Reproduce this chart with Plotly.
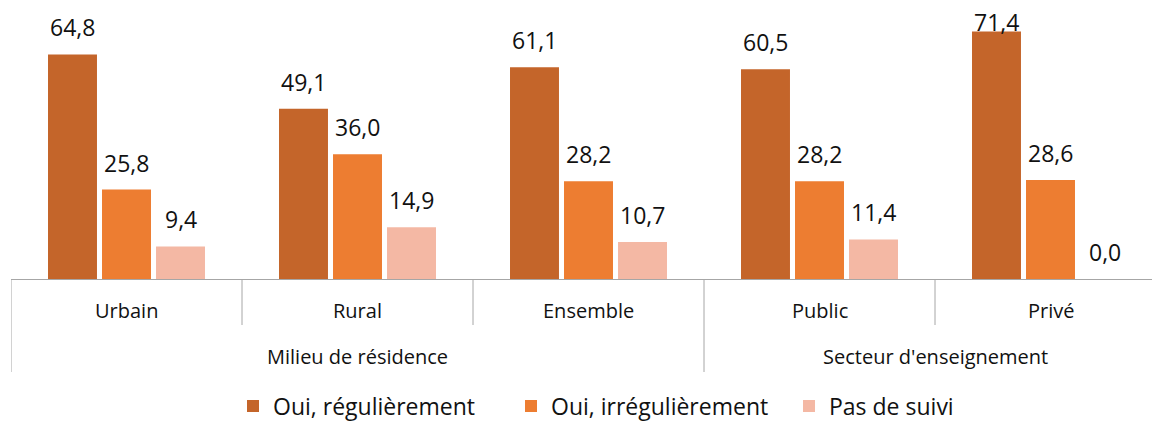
import plotly.graph_objects as go

categories = ["Urbain", "Rural", "Ensemble", "Public", "Privé"]
groups = ["Milieu de résidence", "Secteur d'enseignement"]
group_members = [["Urbain", "Rural", "Ensemble"], ["Public", "Privé"]]
series_names = ["Oui, régulièrement", "Oui, irrégulièrement", "Pas de suivi"]
oui_reg = [64.8, 49.1, 61.1, 60.5, 71.4]
oui_irreg = [25.8, 36.0, 28.2, 28.2, 28.6]
pas_suivi = [9.4, 14.9, 10.7, 11.4, 0.0]

series = [oui_reg, oui_irreg, pas_suivi]
colors = ["#C4652A", "#ED7D31", "#F4B8A4"]

FONT = "Open Sans"
TXT = "#111111"
LINE = "#A6A6A6"

W, H = 1152, 423
ML, MR, MT, MB = 11, 0, 0, 144
plot_h = H - MT - MB

BAR_W = 0.212
SLOT = 0.2338
Y_MAX = 80.5
LABEL_CAP = 66.4  # labels higher than this are pushed down to stay in chart

fig = go.Figure()
for k, (name, vals, col) in enumerate(zip(series_names, series, colors)):
    fig.add_trace(go.Bar(
        x=categories, y=vals, name=name,
        marker=dict(color=col, line=dict(width=0)),
        width=BAR_W, offset=(k - 1) * SLOT - BAR_W / 2,
        hoverinfo="x+y+name",
    ))

annotations = []
# value labels
for k, vals in enumerate(series):
    for i, v in enumerate(vals):
        annotations.append(dict(
            x=i + (k - 1) * SLOT, y=min(v, LABEL_CAP), xref="x", yref="y",
            text=f"{v:.1f}".replace(".", ","), showarrow=False,
            yanchor="bottom", yshift=9,
            font=dict(family=FONT, size=23, color=TXT),
        ))

def py(px):
    return (plot_h - (px - MT)) / plot_h

# inner category labels
for c in categories:
    annotations.append(dict(
        x=c, y=py(310), xref="x", yref="paper", text=c, showarrow=False,
        yanchor="middle", font=dict(family=FONT, size=20, color=TXT),
    ))

# group labels
shapes = []
for g, members in zip(groups, group_members):
    i0 = categories.index(members[0])
    i1 = categories.index(members[-1])
    annotations.append(dict(
        x=(i0 + i1) / 2, y=py(356), xref="x", yref="paper", text=g,
        showarrow=False, yanchor="middle",
        font=dict(family=FONT, size=20, color=TXT),
    ))
    shapes.append(dict(type="line", xref="x", yref="paper",
                       x0=i0 - 0.5, x1=i0 - 0.5, y0=0, y1=py(372),
                       line=dict(color=LINE, width=1)))
    for j in range(i0 + 1, i1 + 1):
        shapes.append(dict(type="line", xref="x", yref="paper",
                           x0=j - 0.5, x1=j - 0.5, y0=0, y1=py(325),
                           line=dict(color=LINE, width=1)))

x_right = (W - ML) / 231.0 - 0.5

fig.update_layout(
    width=W, height=H,
    margin=dict(l=ML, r=MR, t=MT, b=MB, autoexpand=False),
    paper_bgcolor="white", plot_bgcolor="white",
    barmode="group",
    font=dict(family=FONT, size=20, color=TXT),
    xaxis=dict(type="category", categoryorder="array", categoryarray=categories,
               range=[-0.5, x_right], showticklabels=False, showgrid=False,
               showline=True, linecolor=LINE, linewidth=1, ticks="",
               zeroline=False, fixedrange=True),
    yaxis=dict(range=[0, Y_MAX], visible=False, showgrid=False, zeroline=False,
               fixedrange=True),
    showlegend=True,
    legend=dict(orientation="h", xref="paper", yref="container",
                x=(233 - ML) / (W - ML), xanchor="left",
                y=1 - 406 / H, yanchor="middle",
                entrywidth=233, entrywidthmode="pixels",
                font=dict(family=FONT, size=23, color=TXT),
                bgcolor="rgba(0,0,0,0)", traceorder="normal"),
    annotations=annotations,
    shapes=shapes,
)

fig.write_html(
    "out.html",
    config={"displayModeBar": False},
    post_script="document.body.style.margin='0px';document.body.style.overflow='hidden';",
)
